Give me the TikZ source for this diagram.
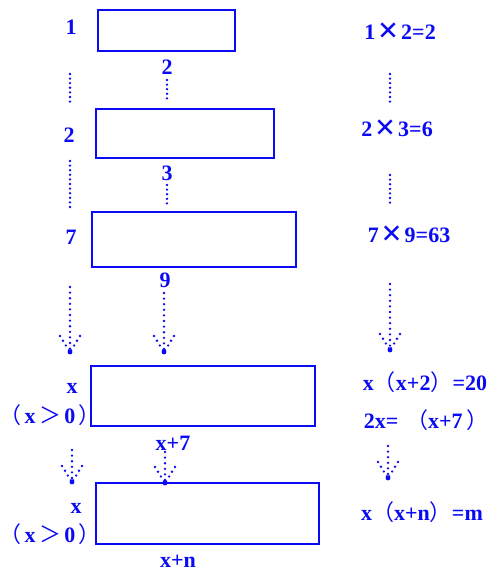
\documentclass[tikz,border=0pt]{standalone}
\usepackage{fontspec}
\setmainfont{Liberation Serif}
\newfontfamily\cjk{Noto Sans CJK SC}[BoldFont={* Bold}]
\definecolor{myblue}{RGB}{10,10,245}
\newcommand\fw[1]{{\cjk\mdseries #1}}
\newcommand\tms{\hspace{0.12em}\smash{\raisebox{-0.16em}{\scalebox{1.65}{×}}}\hspace{0.12em}}
\newcommand\gp{\hspace{0.15em}}
\tikzset{
  box/.style={draw=myblue, line width=2.6pt},
  lbl/.style={text=myblue, font=\fontsize{22}{24}\selectfont\bfseries, inner sep=0pt, anchor=center},
  dots/.style={draw=myblue, line width=2.6pt, line cap=round, dash pattern=on 0pt off 4.6pt},
  adots/.style={draw=myblue, line width=2.6pt, line cap=round, dash pattern=on 0pt off 5.6pt},
}
\newcommand\dotarr[2]{%
  \draw[adots] (#1) -- (#2);
  \draw[adots] ($(#2)+(-10,-16)$) -- (#2);
  \draw[adots] ($(#2)+(10,-16)$) -- (#2);
  \fill[myblue] (#2) circle (2.4);
}
\usetikzlibrary{calc}
\begin{document}
\begin{tikzpicture}[x=1pt,y=-1pt]
\useasboundingbox (0,0) rectangle (489,572);
% boxes
\draw[box] (98,10) rectangle (235,51) node[pos=0.5] (b1) {};
\draw[box] (96,109) rectangle (274,158) node[pos=0.5] (b2) {};
\draw[box] (92,212) rectangle (296,267) node[pos=0.5] (b3) {};
\draw[box] (91,366) rectangle (315,426) node[pos=0.5] (b4) {};
\draw[box] (96,483) rectangle (319,544) node[pos=0.5] (b5) {};
% left labels
\node[lbl] (l1) at (71,27) {1};
\node[lbl] (l2) at (69,135) {2};
\node[lbl] (l7) at (71,237) {7};
\node[lbl] (lx1) at (72,388) {x};
\node[lbl] (lc1) at (50,415) {\fw{（}\gp x\gp\fw{＞}\gp 0\gp\fw{）}};
\node[lbl] (lx2) at (76,508) {x};
\node[lbl] (lc2) at (50,534) {\fw{（}\gp x\gp\fw{＞}\gp 0\gp\fw{）}};
% bottom labels
\node[lbl] (m2) at (167,67) {2};
\node[lbl] (m3) at (167,173) {3};
\node[lbl] (m9) at (165,280) {9};
\node[lbl] (m7) at (173,443) {x+7};
\node[lbl] (mn) at (178,561) {x+n};
% right labels
\node[lbl] (r1) at (400,32) {1\tms 2=2};
\node[lbl] (r2) at (397,129) {2\tms 3=6};
\node[lbl] (r3) at (409,235) {7\tms 9=63};
\node[lbl] (r4) at (425,382) {x\fw{（}x+2\fw{）}=20};
\node[lbl] (r5) at (426,420) {2x=\hspace{0.35em}\fw{（}x+7\hspace{0.15em}\fw{）}};
\node[lbl] (r6) at (422,512) {x\fw{（}x+n\fw{）}=m};
% dotted lines (upper)
\coordinate (a1) at (70,74);  \coordinate (a2) at (70,103);
\coordinate (a3) at (70,161); \coordinate (a4) at (70,208);
\coordinate (c1) at (167,80); \coordinate (c2) at (167,100);
\coordinate (c3) at (167,185); \coordinate (c4) at (167,205);
\coordinate (d1) at (390,74); \coordinate (d2) at (390,103);
\coordinate (d3) at (390,175); \coordinate (d4) at (390,204);
\draw[dots] (a1) -- (a2);
\draw[dots] (a3) -- (a4);
\draw[dots] (c1) -- (c2);
\draw[dots] (c3) -- (c4);
\draw[dots] (d1) -- (d2);
\draw[dots] (d3) -- (d4);
% dotted arrows
\coordinate (p1) at (70,287);  \coordinate (q1) at (70,352);
\coordinate (p2) at (164,293); \coordinate (q2) at (164,352);
\coordinate (p3) at (390,284); \coordinate (q3) at (390,350);
\coordinate (p4) at (72,450);  \coordinate (q4) at (72,482);
\coordinate (p5) at (165,452); \coordinate (q5) at (165,483);
\coordinate (p6) at (388,446); \coordinate (q6) at (388,478);
\dotarr{p1}{q1}
\dotarr{p2}{q2}
\dotarr{p3}{q3}
\dotarr{p4}{q4}
\dotarr{p5}{q5}
\dotarr{p6}{q6}
\end{tikzpicture}
\end{document}
